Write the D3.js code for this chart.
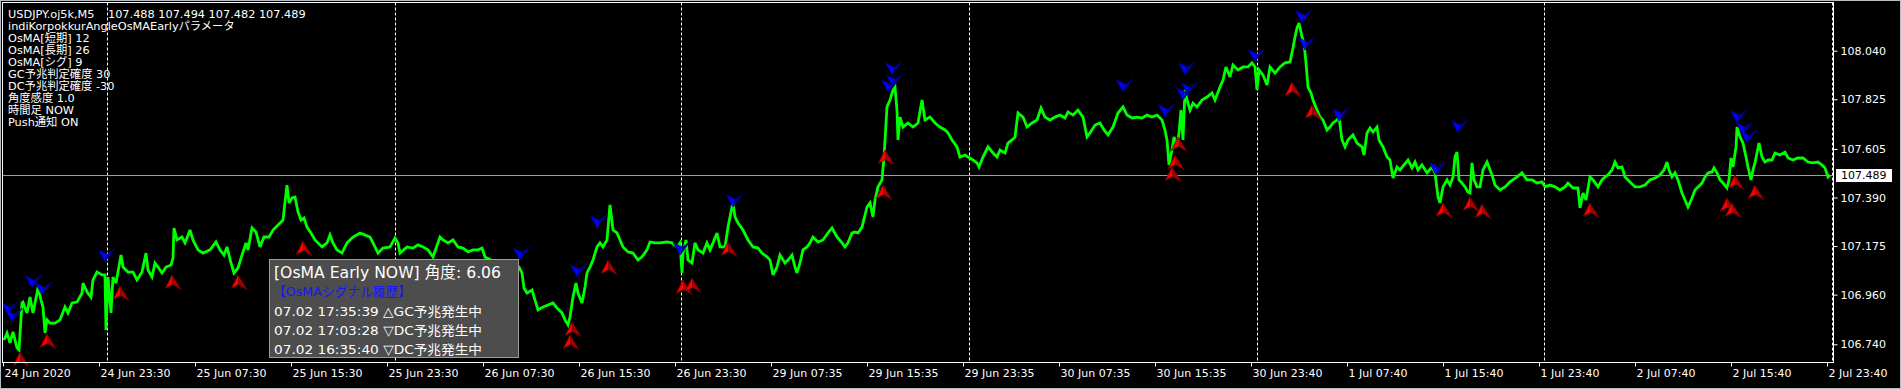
<!DOCTYPE html>
<html><head><meta charset="utf-8">
<script src="https://cdn.jsdelivr.net/npm/d3@7"></script>
<style>
html,body{margin:0;padding:0;background:#000;overflow:hidden}
svg{display:block}
text{font-family:"DejaVu Sans","Noto Sans CJK JP",sans-serif}
</style></head><body>
<svg id="chart" width="1901" height="389"></svg>
<script>
// ---- DATA ----
const closeSeries = [
[1,106.759],[4,106.790],[7,106.746],[10,106.795],[14,106.724],[16,106.715],[19,106.923],[20,106.927],[24,106.879],[27,106.949],[30,106.879],[34,106.967],[35,106.994],[38,106.936],[40,106.905],[42,106.790],[44,106.848],[47,106.834],[52,106.834],[57,106.848],[62,106.905],[65,106.879],[69,106.923],[74,106.927],[79,106.967],[80,107.011],[84,106.972],[88,106.949],[90,107.025],[94,107.060],[99,107.047],[102,107.047],[103,106.803],[105,107.038],[108,106.879],[110,107.038],[113,107.011],[118,107.135],[120,107.082],[125,107.060],[130,107.060],[134,107.025],[139,107.060],[143,107.144],[145,107.069],[149,107.038],[152,107.100],[155,107.082],[159,107.056],[163,107.082],[168,107.091],[170,107.122],[171,107.255],[174,107.202],[179,107.215],[182,107.189],[187,107.246],[190,107.202],[195,107.158],[200,107.144],[207,107.158],[213,107.193],[217,107.158],[221,107.135],[224,107.171],[228,107.100],[231,107.056],[235,107.078],[239,107.135],[243,107.189],[245,107.158],[249,107.255],[253,107.237],[257,107.171],[261,107.215],[266,107.215],[270,107.246],[275,107.268],[280,107.290],[282,107.370],[284,107.445],[286,107.366],[289,107.388],[292,107.392],[295,107.326],[298,107.290],[301,107.299],[304,107.259],[308,107.233],[312,107.202],
[319,107.171],[324,107.189],[327,107.224],[330,107.189],[334,107.158],[339,107.144],[344,107.189],[350,107.215],[357,107.233],[362,107.224],[367,107.215],[370,107.189],[375,107.144],[380,107.166],[387,107.171],[392,107.211],[395,107.189],[397,107.144],[404,107.171],[410,107.166],[415,107.180],[420,107.171],[425,107.158],[430,107.127],[437,107.215],[440,107.202],[445,107.189],[450,107.202],[455,107.171],[460,107.166],[465,107.149],[470,107.158],[475,107.158],[479,107.166],[482,107.127],[492,107.104],[502,107.078],[509,107.104],[516,107.082],[519,107.056],[521,106.989],[524,106.967],[529,106.980],[532,106.936],[535,106.892],[540,106.905],[545,106.914],[550,106.923],[554,106.901],[559,106.879],[562,106.848],[565,106.826],[567,106.861],[570,106.949],[573,107.011],[575,106.967],[579,106.923],[582,106.994],[584,107.056],[587,107.082],[590,107.113],[594,107.171],[597,107.189],[600,107.171],[604,107.202],[607,107.357],[610,107.246],[614,107.233],[617,107.202],
[620,107.171],[625,107.149],[630,107.144],[635,107.113],[639,107.127],[644,107.158],[647,107.193],[652,107.189],[657,107.189],[664,107.193],[669,107.189],[674,107.171],[677,107.189],[679,107.056],[680,107.144],[683,107.202],[685,107.113],[689,107.100],[692,107.189],[695,107.158],[700,107.144],[704,107.189],[707,107.158],[710,107.189],[714,107.233],[717,107.171],[722,107.171],[725,107.259],[729,107.348],[730,107.366],[732,107.304],[735,107.277],[740,107.246],[745,107.202],[750,107.171],[755,107.166],[759,107.144],[764,107.127],[767,107.113],[770,107.047],[774,107.082],[777,107.135],[782,107.100],[785,107.113],[789,107.135],[792,107.082],[794,107.056],[797,107.100],[800,107.158],[804,107.171],[807,107.189],[810,107.215],[815,107.193],[820,107.202],[825,107.233],[829,107.255],[834,107.215],[839,107.189],[842,107.171],[845,107.189],[849,107.233],[852,107.237],[855,107.233],[859,107.259],[864,107.348],[867,107.366],[870,107.304],[872,107.379],[875,107.437],[879,107.468],[881,107.569],
[884,107.791],[887,107.822],[890,107.866],[892,107.879],[894,107.777],[895,107.645],[897,107.746],[900,107.702],[905,107.720],[910,107.702],[915,107.720],[919,107.822],[922,107.733],[927,107.746],[932,107.720],[937,107.702],[942,107.689],[945,107.676],[949,107.645],[954,107.614],[957,107.569],[962,107.578],[965,107.569],[970,107.556],[974,107.543],[976,107.525],[980,107.569],[985,107.614],[990,107.587],[994,107.569],[997,107.600],[1002,107.587],[1005,107.631],[1009,107.645],[1012,107.658],[1015,107.764],[1020,107.746],[1024,107.702],[1029,107.720],[1034,107.733],[1038,107.786],[1042,107.746],[1047,107.733],[1052,107.746],[1057,107.755],[1062,107.742],[1065,107.769],[1070,107.755],[1075,107.777],[1080,107.746],[1084,107.658],[1087,107.676],[1092,107.711],[1097,107.720],[1101,107.689],[1105,107.667],[1110,107.702],[1115,107.764],[1120,107.791],[1124,107.755],[1129,107.742],[1134,107.746],[1139,107.742],[1144,107.755],[1149,107.746],[1154,107.755],[1159,107.733],[1162,107.689],[1164,107.645],[1166,107.534],[1169,107.600],[1171,107.658],[1174,107.614],[1176,107.676],[1178,107.777],[1180,107.645],[1182,107.866],
[1184,107.822],[1187,107.777],[1190,107.808],[1194,107.791],[1199,107.822],[1204,107.835],[1209,107.853],[1212,107.822],[1217,107.879],[1220,107.910],[1223,107.968],[1227,107.924],[1230,107.977],[1235,107.955],[1240,107.968],[1245,107.968],[1249,107.986],[1252,107.968],[1254,107.866],[1256,107.955],[1260,107.932],[1264,107.888],[1267,107.968],[1272,107.941],[1277,107.968],[1282,107.986],[1287,107.990],[1290,108.052],[1292,108.101],[1294,108.141],[1296,108.163],[1299,108.101],[1301,108.074],[1303,107.986],[1305,107.879],[1308,107.853],[1310,107.822],[1314,107.777],[1317,107.746],[1320,107.733],[1324,107.689],[1327,107.702],[1330,107.720],[1334,107.733],[1336,107.746],[1339,107.645],[1342,107.614],[1345,107.645],[1350,107.667],[1354,107.631],[1359,107.614],[1361,107.578],[1364,107.676],[1367,107.698],[1370,107.680],[1374,107.702],[1376,107.645],[1380,107.614],[1384,107.569],[1387,107.556],[1390,107.476],[1394,107.525],[1397,107.512],[1401,107.534],[1405,107.556],[1409,107.521],[1412,107.547],[1415,107.512],[1419,107.534],[1424,107.499],[1429,107.525],[1432,107.499],[1435,107.392],[1437,107.366],[1440,107.437],[1444,107.468],[1447,107.445],[1450,107.481],[1452,107.569],[1454,107.591],[1456,107.468],[1459,107.454],[1462,107.437],[1465,107.414],[1467,107.410],[1469,107.543],[1471,107.468],[1474,107.437],[1477,107.437],
[1480,107.512],[1484,107.547],[1489,107.490],[1492,107.445],[1497,107.423],[1502,107.437],[1507,107.459],[1514,107.481],[1519,107.499],[1524,107.468],[1529,107.468],[1534,107.454],[1539,107.459],[1542,107.437],[1547,107.445],[1552,107.437],[1557,107.423],[1562,107.437],[1565,107.454],[1570,107.432],[1575,107.432],[1577,107.344],[1580,107.410],[1583,107.379],[1587,107.481],[1590,107.468],[1595,107.437],[1599,107.468],[1602,107.481],[1605,107.490],[1609,107.512],[1612,107.547],[1615,107.521],[1619,107.525],[1622,107.481],[1627,107.459],[1632,107.437],[1637,107.437],[1642,107.445],[1647,107.468],[1652,107.476],[1657,107.490],[1661,107.512],[1664,107.547],[1666,107.512],[1669,107.481],[1672,107.499],[1675,107.468],[1679,107.410],[1682,107.379],[1685,107.348],[1689,107.388],[1692,107.423],[1695,107.437],[1699,107.454],[1702,107.481],[1705,107.499],[1709,107.503],[1711,107.521],[1714,107.499],[1717,107.468],[1720,107.454],[1724,107.432],[1726,107.468],[1728,107.565],[1730,107.525],[1733,107.614],[1734,107.702],[1737,107.658],[1740,107.631],[1743,107.569],[1745,107.525],[1748,107.468],[1750,107.512],[1752,107.543],[1754,107.587],[1756,107.631],[1759,107.569],[1762,107.547],[1765,107.556],[1769,107.556],[1772,107.587],[1777,107.578],[1782,107.591],[1785,107.565],[1790,107.556],[1795,107.565],[1800,107.565],[1805,107.547],[1810,107.543],[1815,107.547],[1819,107.534],[1822,107.521],[1825,107.481],[1827,107.489]
];
// GC signal arrows (red, pointing up): [bar, price of apex]
const gcArrows = [[17,106.706],[44,106.786],[117,106.998],[169,107.047],[235,107.047],[300,107.197],[569,106.839],[567,106.781],[605,107.113],[680,107.025],[689,107.034],[725,107.193],[882,107.600],[880,107.445],[1175,107.658],[1172,107.578],[1169,107.525],[1289,107.901],[1309,107.800],[1440,107.366],[1467,107.392],[1479,107.361],[1587,107.366],[1724,107.388],[1729,107.366],[1732,107.490],[1752,107.445]];
// DC signal arrows (blue, pointing down): [bar, price of tip]
const dcArrows = [[5,106.870],[9,106.839],[29,106.989],[39,106.958],[102,107.104],[517,107.113],[574,107.038],[594,107.255],[677,107.135],[730,107.348],[889,107.932],[890,107.879],[885,107.857],[1120,107.857],[1162,107.746],[1182,107.932],[1185,107.844],[1180,107.822],[1252,107.990],[1299,108.163],[1302,108.043],[1336,107.729],[1433,107.490],[1455,107.676],[1734,107.720],[1740,107.667],[1744,107.631]];
const daySeparatorBars = [104, 392, 678, 966, 1254, 1541, 1829];
const timeTickBars = [0,96,192,288,384,480,576,672,768,864,960,1056,1152,1248,1344,1440,1536,1632,1728,1824];
const timeTickLabels = ["24 Jun 2020","24 Jun 23:30","25 Jun 07:30","25 Jun 15:30","25 Jun 23:30","26 Jun 07:30","26 Jun 15:30","26 Jun 23:30","29 Jun 07:35","29 Jun 15:35","29 Jun 23:35","30 Jun 07:35","30 Jun 15:35","30 Jun 23:40","1 Jul 07:40","1 Jul 15:40","1 Jul 23:40","2 Jul 07:40","2 Jul 15:40","2 Jul 23:40"];
const priceTicks = [108.040, 107.825, 107.605, 107.390, 107.175, 106.960, 106.740];
const lastPrice = 107.489;
const symbolText = "USDJPY.oj5k,M5";
const ohlcText = "107.488 107.494 107.482 107.489";
const infoLines = ["indiKorpokkurAngleOsMAEarlyパラメータ","OsMA[短期] 12","OsMA[長期] 26","OsMA[シグ] 9","GC予兆判定確度 30","DC予兆判定確度 -30","角度感度 1.0","時間足 NOW","Push通知 ON"];
const panelTitle = "[OsMA Early NOW] 角度: 6.06";
const panelHeader = "【OsMAシグナル履歴】";
const panelHistory = ["07.02 17:35:39 △GC予兆発生中","07.02 17:03:28 ▽DC予兆発生中","07.02 16:35:40 ▽DC予兆発生中"];

// ---- CHART ----
const W = 1901, H = 389;
const plot = {left: 2.5, top: 2.5, right: 1833.5, bottom: 362.5};
const svg = d3.select("#chart");
svg.append("rect").attr("width", W).attr("height", H).attr("fill", "#000");

const x = d3.scaleLinear().domain([0, 1828]).range([3, 1831]);
const y = d3.scaleLinear().domain([106.740, 108.040]).range([344.3, 50.7]);

// period separators
svg.append("g").selectAll("line").data(daySeparatorBars).join("line")
  .attr("x1", d => Math.round(x(d)) + 0.5).attr("x2", d => Math.round(x(d)) + 0.5)
  .attr("y1", plot.top).attr("y2", plot.bottom)
  .attr("stroke", "#fff").attr("stroke-width", 1).attr("stroke-dasharray", "3,2");

// bid line
svg.append("line").attr("x1", plot.left).attr("x2", plot.right)
  .attr("y1", Math.round(y(lastPrice)) + 0.5).attr("y2", Math.round(y(lastPrice)) + 0.5)
  .attr("stroke", "#9a9aa4").attr("stroke-width", 1);

// price line
svg.append("path").datum(closeSeries)
  .attr("d", d3.line().x(d => x(d[0])).y(d => y(d[1])))
  .attr("fill", "none").attr("stroke", "#00ff00").attr("stroke-width", 2.8)
  .attr("stroke-linejoin", "miter").attr("stroke-miterlimit", 3);

// arrows
const red = svg.append("g").selectAll("g").data(gcArrows).join("g")
  .attr("transform", d => `translate(${x(d[0])},${y(d[1])}) scale(1.12)`);
red.append("path").attr("d", "M0,0L-6,12L0.5,8.5Z").attr("fill", "#ff0000");
red.append("path").attr("d", "M0,0L0.5,8.5L8,13Z").attr("fill", "#a80000");
red.append("path").attr("d", "M0,0L-6,12L0.5,8.5L8,13Z").attr("fill", "none")
  .attr("stroke", "#700000").attr("stroke-width", 0.7);

const blue = svg.append("g").selectAll("g").data(dcArrows).join("g")
  .attr("transform", d => `translate(${x(d[0])},${y(d[1])}) scale(1.12)`);
blue.append("path").attr("d", "M0,0L-6,-11L2,-7Z").attr("fill", "#0000ff");
blue.append("path").attr("d", "M0,0L2,-7L9,-12Z").attr("fill", "#0000a8");
blue.append("path").attr("d", "M0,0L-6,-11L2,-7L9,-12Z").attr("fill", "none")
  .attr("stroke", "#000070").attr("stroke-width", 0.7);

// frame
svg.append("rect").attr("x", plot.left).attr("y", plot.top)
  .attr("width", plot.right - plot.left).attr("height", plot.bottom - plot.top)
  .attr("fill", "none").attr("stroke", "#fff").attr("stroke-width", 1);

// right price axis
const yAxis = svg.append("g").attr("transform", `translate(${plot.right},0)`)
  .call(d3.axisRight(y).tickValues(priceTicks).tickSize(4).tickFormat(d => d.toFixed(3)));
yAxis.select(".domain").remove();
yAxis.selectAll("line").attr("stroke", "#fff");
yAxis.selectAll("text").attr("fill", "#fff").attr("font-size", 11)
  .attr("font-family", "DejaVu Sans").attr("x", 7);

// bottom time axis
const xAxis = svg.append("g").attr("transform", `translate(0,${plot.bottom})`)
  .call(d3.axisBottom(x).tickValues(timeTickBars).tickSize(4).tickFormat((d, i) => timeTickLabels[i]));
xAxis.select(".domain").remove();
xAxis.selectAll("line").attr("stroke", "#fff");
xAxis.selectAll("text").attr("fill", "#fff").attr("font-size", 11)
  .attr("font-family", "DejaVu Sans").attr("text-anchor", "start").attr("x", 1).attr("y", 7);

// current price label
const yl = Math.round(y(lastPrice));
svg.append("rect").attr("x", 1836).attr("y", yl - 6).attr("width", 56).attr("height", 13).attr("fill", "#fff");
svg.append("text").attr("x", 1841).attr("y", yl + 0.5).attr("dy", "0.35em")
  .attr("font-size", 11).attr("fill", "#000").text(lastPrice.toFixed(3));

// signal panel
svg.append("rect").attr("x", 269.5).attr("y", 259.5).attr("width", 249).attr("height", 98)
  .attr("fill", "#4d4d4d").attr("stroke", "#9c9c9c").attr("stroke-width", 1);
svg.append("text").attr("x", 274).attr("y", 277.5).attr("font-size", 15.5).attr("fill", "#fff")
  .attr("font-family", "Liberation Sans, Noto Sans CJK JP")
  .attr("textLength", 227).attr("lengthAdjust", "spacingAndGlyphs").text(panelTitle);
svg.append("text").attr("x", 273).attr("y", 296).attr("font-size", 13).attr("fill", "#1515ff")
  .attr("font-family", "Liberation Sans, Noto Sans CJK JP")
  .attr("textLength", 138).attr("lengthAdjust", "spacingAndGlyphs").text(panelHeader);
svg.append("g").selectAll("text").data(panelHistory).join("text")
  .attr("x", 274).attr("y", (d, i) => 315.5 + i * 19)
  .attr("font-size", 13).attr("fill", "#fff")
  .attr("font-family", "Liberation Sans, Noto Sans CJK JP")
  .attr("textLength", 208).attr("lengthAdjust", "spacingAndGlyphs").text(d => d);

// info text (top-left)
const info = svg.append("g").attr("font-size", 11.3).attr("fill", "#fff");
info.append("text").attr("x", 8).attr("y", 18.3).text(symbolText);
info.append("text").attr("x", 108).attr("y", 18.3).text(ohlcText);
info.selectAll("text.l").data(infoLines).join("text").attr("class", "l")
  .attr("x", 8).attr("y", (d, i) => 30.3 + i * 12).text(d => d);

// window border
svg.append("rect").attr("x", 0.5).attr("y", 0.5).attr("width", W - 1).attr("height", H - 1)
  .attr("fill", "none").attr("stroke", "#b8bcc4").attr("stroke-width", 1);
</script>
</body></html>
